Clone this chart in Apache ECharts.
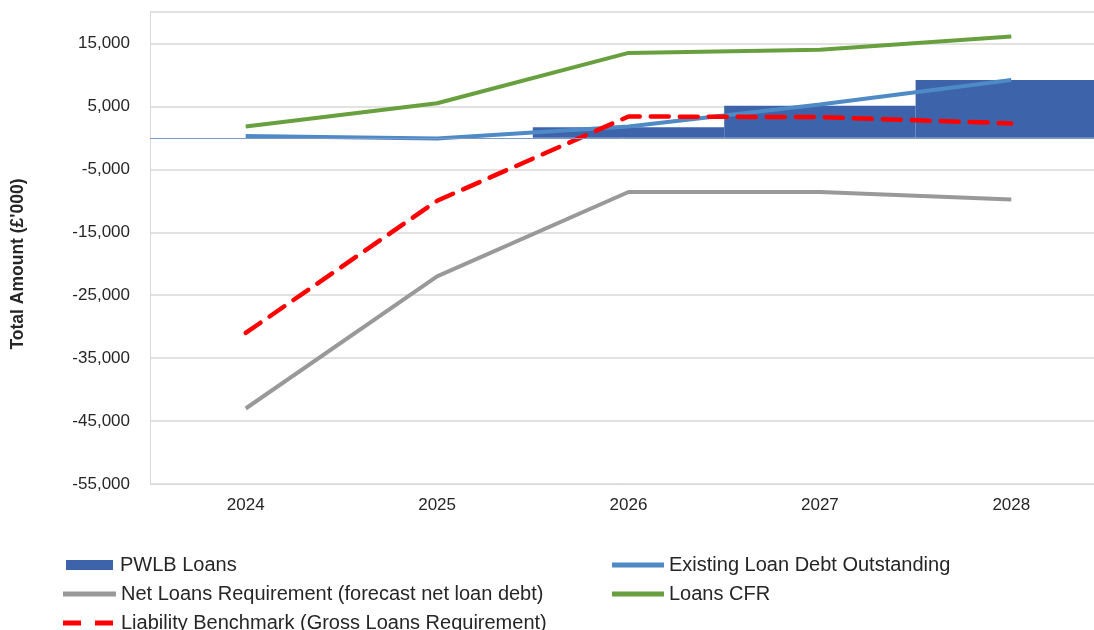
<!DOCTYPE html>
<html>
<head>
<meta charset="utf-8">
<script src="https://cdn.jsdelivr.net/npm/echarts@6/dist/echarts.min.js"></script>
<style>
  html, body { margin: 0; padding: 0; background: #ffffff; }
  #chart { width: 1094px; height: 630px; }
</style>
</head>
<body>
<div id="chart"></div>
<script>
// Loans borrowing profile, £'000
const years = ['2024', '2025', '2026', '2027', '2028'];
const pwlbLoans = [0, 0, 1700, 5100, 9200];
const existingDebt = [300, -100, 1800, 5300, 9200];
const netLoansReq = [-43000, -22000, -8600, -8600, -9800];
const loansCFR = [1800, 5500, 13500, 14000, 16100];
const liabilityBenchmark = [-31000, -10000, 3400, 3300, 2300];

const yMin = -55000;
const yMax = 20000;
const yStep = 10000;

const FONT = '"Liberation Sans", Arial, sans-serif';
const TEXT = '#262626';

const C_BAR = '#3D64AB';
const C_EXIST = '#4E8AC6';
const C_NET = '#999999';
const C_CFR = '#68A03F';
const C_LB = '#FF0000';

const NAME_PWLB = 'PWLB Loans';
const NAME_EXIST = 'Existing Loan Debt Outstanding';
const NAME_NET = 'Net Loans Requirement (forecast net loan debt)';
const NAME_CFR = 'Loans CFR';
const NAME_LB = 'Liability Benchmark (Gross Loans Requirement)';

function fmt(v) {
  const s = Math.abs(v).toString().replace(/\B(?=(\d{3})+(?!\d))/g, ',');
  return (v < 0 ? '-' : '') + s;
}

// one legend box per entry so the two columns line up
function legendItem(name, left, top, w, h, icon, color, pad) {
  return {
    left: left, top: top, orient: 'horizontal', padding: 0,
    itemWidth: w, itemHeight: h, itemGap: 0,
    selectedMode: false,
    textStyle: { fontFamily: FONT, fontSize: 20, color: TEXT, lineHeight: 22, padding: [0, 0, 0, pad] },
    data: [{ name: name, icon: icon, itemStyle: { color: color, borderWidth: 0 } }]
  };
}

const dashIcon = 'path://M0,0h18v5h-18zM32,0h18v5h-18z';

const chart = echarts.init(document.getElementById('chart'));
chart.setOption({
  animation: false,
  backgroundColor: '#ffffff',
  textStyle: { fontFamily: FONT },
  grid: { left: 150, top: 12, width: 957, bottom: 146, containLabel: false, outerBoundsMode: 'none' },
  legend: [
    legendItem(NAME_PWLB, 66, 554, 47, 10, 'rect', C_BAR, 2),
    legendItem(NAME_NET, 63, 583, 53, 5, 'rect', C_NET, 0),
    legendItem(NAME_LB, 63, 612, 50, 5, dashIcon, C_LB, 3),
    legendItem(NAME_EXIST, 612, 554, 52, 5, 'rect', C_EXIST, 0),
    legendItem(NAME_CFR, 612, 583, 52, 5, 'rect', C_CFR, 0)
  ],
  xAxis: {
    type: 'category',
    data: years,
    boundaryGap: true,
    axisLine: { show: true, onZero: false, lineStyle: { color: '#D9D9D9', width: 1 } },
    axisTick: { show: false },
    axisLabel: { fontFamily: FONT, fontSize: 17, color: TEXT, margin: 13 }
  },
  yAxis: {
    type: 'value',
    min: yMin, max: yMax, interval: yStep,
    name: "Total Amount (£'000)",
    nameLocation: 'middle',
    nameGap: 123,
    nameRotate: 90,
    nameTextStyle: { fontFamily: FONT, fontSize: 17.5, fontWeight: 'bold', color: TEXT, padding: [0, 32, 0, 0] },
    axisLine: { show: true, lineStyle: { color: '#D9D9D9', width: 1 } },
    axisTick: { show: false },
    splitLine: { show: true, lineStyle: { color: '#D9D9D9', width: 1.5 } },
    axisLabel: {
      fontFamily: FONT, fontSize: 17, color: TEXT, margin: 20,
      formatter: function (v) { return v >= yMax ? '' : fmt(v); }
    }
  },
  series: [
    {
      name: NAME_PWLB,
      type: 'bar',
      data: pwlbLoans,
      barCategoryGap: '0%',
      itemStyle: { color: C_BAR },
      markLine: {
        silent: true, symbol: 'none', label: { show: false },
        lineStyle: { color: '#7E97C6', width: 1, type: 'solid' },
        data: [{ yAxis: 0 }]
      },
      z: 1
    },
    {
      name: NAME_EXIST,
      type: 'line',
      data: existingDebt,
      symbol: 'none',
      lineStyle: { color: C_EXIST, width: 4 },
      itemStyle: { color: C_EXIST },
      z: 3
    },
    {
      name: NAME_NET,
      type: 'line',
      data: netLoansReq,
      symbol: 'none',
      lineStyle: { color: C_NET, width: 4 },
      itemStyle: { color: C_NET },
      z: 3
    },
    {
      name: NAME_CFR,
      type: 'line',
      data: loansCFR,
      symbol: 'none',
      lineStyle: { color: C_CFR, width: 4 },
      itemStyle: { color: C_CFR },
      z: 3
    },
    {
      name: NAME_LB,
      type: 'line',
      data: liabilityBenchmark,
      symbol: 'none',
      lineStyle: { color: C_LB, width: 4.5, type: [18, 11], cap: 'round' },
      itemStyle: { color: C_LB },
      z: 4
    }
  ]
});
</script>
</body>
</html>
